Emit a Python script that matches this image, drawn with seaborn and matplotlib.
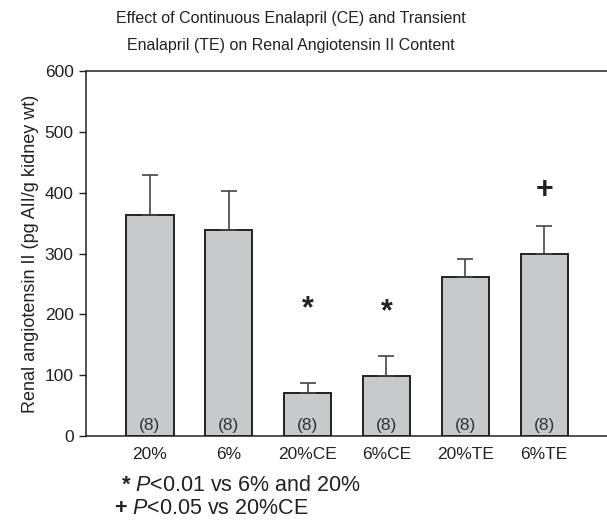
# plot.py - renal angiotensin II bar chart

import pandas as pd
import seaborn as sns
import matplotlib.pyplot as plt

# data
groups = ['20%', '6%', '20%CE', '6%CE', '20%TE', '6%TE']
means = [363, 338, 71, 99, 261, 299]
sem = [66, 64, 16, 33, 30, 46]
n_labels = ['(8)', '(8)', '(8)', '(8)', '(8)', '(8)']
marks = ['', '', '*', '*', '', '+']
mark_y = [0, 0, 209, 204, 0, 404]

df = pd.DataFrame({'group': groups, 'value': means})

sns.set_style("white")
plt.rcParams['font.family'] = ['Liberation Sans', 'DejaVu Sans']
plt.rcParams['mathtext.fontset'] = 'custom'
plt.rcParams['mathtext.rm'] = 'Liberation Sans'
plt.rcParams['mathtext.it'] = 'Liberation Sans:italic'
plt.rcParams['mathtext.bf'] = 'Liberation Sans:bold'

fig = plt.figure(figsize=(6.07, 5.2), dpi=100)
ax = fig.add_axes([0.1417, 0.1615, 0.86, 0.702])

sns.barplot(data=df, x='group', y='value', color='#c8c9cb', width=0.6,
            edgecolor='#222222', linewidth=1.4, saturation=1,
            errorbar=None, ax=ax)

# upward-only error bars
zeros = [0] * len(sem)
ax.errorbar(range(len(groups)), means, yerr=[zeros, sem], fmt='none',
            ecolor='#444444', elinewidth=1.2, capsize=6, capthick=1.2, zorder=1)

for i in range(len(groups)):
    ax.text(i, 5, n_labels[i], ha='center', va='bottom', fontsize=12.5, color='#333333')
    if marks[i]:
        ax.text(i, mark_y[i], marks[i], ha='center', va='center', fontsize=22,
                fontweight='bold', color='#222222')

ax.set_xlim(-0.81, 5.81)
ax.set_ylim(0, 600)
ax.set_yticks([0, 100, 200, 300, 400, 500, 600])
ax.set_xlabel('')
ax.set_ylabel('Renal angiotensin II (pg AII/g kidney wt)', fontsize=13,
              color='#222222', labelpad=4)
ax.tick_params(axis='y', direction='out', length=5, width=1, labelsize=12.5,
               colors='#222222', left=True, pad=4)
ax.tick_params(axis='x', length=0, pad=8, labelsize=12.5, colors='#222222')
for s in ax.spines.values():
    s.set_color('#222222')
    s.set_linewidth(1.1)

fig.text(0.48, 0.965, 'Effect of Continuous Enalapril (CE) and Transient',
         ha='center', va='center', fontsize=11.5, color='#222222')
fig.text(0.48, 0.913, 'Enalapril (TE) on Renal Angiotensin II Content',
         ha='center', va='center', fontsize=11.5, color='#222222')

# footnotes
fig.text(0.199, 0.067, r'$\mathbf{*}$ $\it{P}$<0.01 vs 6% and 20%', ha='left',
         va='center', fontsize=15.5, color='#222222')
fig.text(0.188, 0.022, r'$\mathbf{+}$ $\it{P}$<0.05 vs 20%CE', ha='left',
         va='center', fontsize=15.5, color='#222222')

plt.savefig('out.png', dpi=100)
